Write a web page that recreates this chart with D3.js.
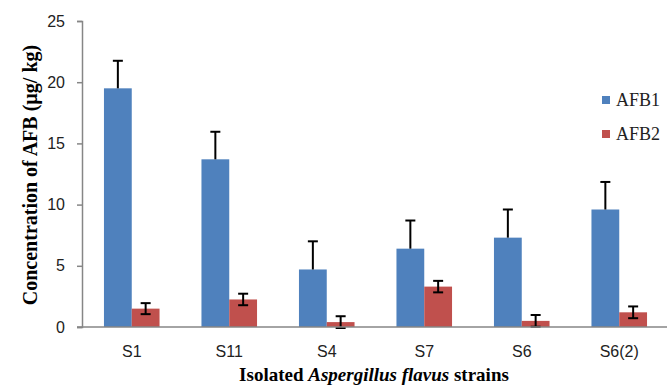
<!DOCTYPE html>
<html>
<head>
<meta charset="utf-8">
<script src="https://cdn.jsdelivr.net/npm/d3@7"></script>
<style>
  body { margin: 0; background: #fff; }
  .tick text { font-family: "Liberation Sans", Arial, sans-serif; font-size: 16px; fill: #222; }
</style>
</head>
<body>
<div id="chart"></div>
<script>
const strains = ["S1", "S11", "S4", "S7", "S6", "S6(2)"];
const seriesNames = ["AFB1", "AFB2"];
const afb1 = [19.5, 13.7, 4.7, 6.4, 7.3, 9.6];
const afb1Err = [2.25, 2.25, 2.3, 2.3, 2.3, 2.25];
const afb2 = [1.5, 2.25, 0.4, 3.3, 0.5, 1.2];
const afb2Err = [0.45, 0.47, 0.48, 0.47, 0.48, 0.48];
const yTicks = [0, 5, 10, 15, 20, 25];

const colors = {AFB1: "#4F81BD", AFB2: "#C0504D"};

const W = 667, H = 387;
const margin = {top: 21, right: 0, bottom: 60, left: 83};

const svg = d3.select("#chart").append("svg")
    .attr("width", W)
    .attr("height", H);

const x0 = d3.scaleBand().domain(strains)
    .range([margin.left, 668])
    .paddingInner(0.43)
    .paddingOuter(0.215);
const x1 = d3.scaleBand().domain(seriesNames).range([0, x0.bandwidth()]);
const y = d3.scaleLinear().domain([0, 25]).range([327, margin.top]);

const rows = strains.map((s, i) => ({
    strain: s,
    vals: [
        {key: "AFB1", v: afb1[i], e: afb1Err[i], both: false},
        {key: "AFB2", v: afb2[i], e: afb2Err[i], both: true}
    ]
}));

// bars
const groups = svg.selectAll("g.grp")
    .data(rows)
    .enter().append("g")
    .attr("class", "grp")
    .attr("transform", d => `translate(${x0(d.strain)},0)`);

groups.selectAll("rect")
    .data(d => d.vals)
    .enter().append("rect")
    .attr("x", d => x1(d.key))
    .attr("y", d => y(d.v))
    .attr("width", x1.bandwidth())
    .attr("height", d => y(0) - y(d.v))
    .attr("fill", d => colors[d.key]);

// error bars
const eb = groups.selectAll("g.err")
    .data(d => d.vals)
    .enter().append("g")
    .attr("class", "err")
    .attr("stroke", "#000")
    .attr("stroke-width", 2);

const cx = d => x1(d.key) + x1.bandwidth() / 2;
eb.append("line")
    .attr("x1", cx).attr("x2", cx)
    .attr("y1", d => y(d.both ? d.v - d.e : d.v))
    .attr("y2", d => y(d.v + d.e));
eb.append("line")
    .attr("x1", d => cx(d) - 5).attr("x2", d => cx(d) + 5)
    .attr("y1", d => y(d.v + d.e)).attr("y2", d => y(d.v + d.e));
eb.filter(d => d.both).append("line")
    .attr("x1", d => cx(d) - 5).attr("x2", d => cx(d) + 5)
    .attr("y1", d => y(d.v - d.e)).attr("y2", d => y(d.v - d.e));

// axes
const yAxis = svg.append("g")
    .attr("transform", `translate(${margin.left - 1},0)`)
    .call(d3.axisLeft(y).tickValues(yTicks).tickSize(5).tickPadding(12));
yAxis.selectAll("line, path").attr("stroke", "#868686").attr("stroke-width", 1.5);

const xAxis = svg.append("g")
    .attr("transform", `translate(0,${y(0)})`)
    .call(d3.axisBottom(x0).tickSize(0).tickPadding(19));
xAxis.select("path").attr("d", `M${margin.left - 6},0H668`)
    .attr("stroke", "#868686").attr("stroke-width", 1.5);

// axis titles
svg.append("text")
    .attr("transform", "translate(37,175) rotate(-90)")
    .attr("text-anchor", "middle")
    .attr("font-family", "Liberation Serif, Times New Roman, serif")
    .attr("font-weight", "bold")
    .attr("font-size", 20)
    .text("Concentration of AFB (µg/ kg)");

const xt = svg.append("text")
    .attr("x", 374)
    .attr("y", 381)
    .attr("text-anchor", "middle")
    .attr("font-family", "Liberation Serif, Times New Roman, serif")
    .attr("font-weight", "bold")
    .attr("font-size", 19);
xt.append("tspan").text("Isolated ");
xt.append("tspan").attr("font-style", "italic").text("Aspergillus flavus");
xt.append("tspan").text(" strains");

// legend
const legend = svg.selectAll("g.leg")
    .data(seriesNames)
    .enter().append("g")
    .attr("class", "leg")
    .attr("transform", (d, i) => `translate(602,${100 + i * 34})`);
legend.append("rect")
    .attr("x", 0).attr("y", -4)
    .attr("width", 8).attr("height", 8)
    .attr("fill", d => colors[d]);
legend.append("text")
    .attr("x", 14).attr("y", 6)
    .attr("font-family", "Liberation Serif, Times New Roman, serif")
    .attr("font-size", 18)
    .attr("fill", "#222")
    .text(d => d);
</script>
</body>
</html>
